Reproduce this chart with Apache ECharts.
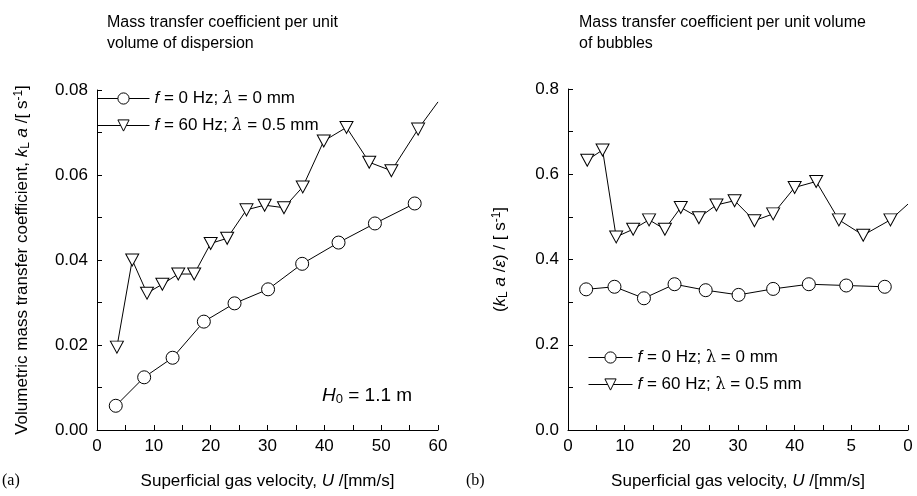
<!DOCTYPE html>
<html lang="en">
  <head>
    <meta charset="UTF-8" />
    <title>Mass transfer coefficient</title>
    <script src="https://cdn.jsdelivr.net/npm/echarts@6/dist/echarts.min.js"></script>
  </head>
  <body style="margin: 0; background: #fff">
    <div id="main" style="width: 917px; height: 496px"></div>
    <script type="text/javascript">
      // (a) per unit volume of dispersion
      const uA0 = [3.3, 8.3, 13.3, 18.8, 24.2, 30.1, 36.1, 42.5, 48.9, 55.9];
      const kA0 = [0.0057, 0.0124, 0.017, 0.0255, 0.0298, 0.0331, 0.0391, 0.0441, 0.0486, 0.0533];
      const uA60 = [3.5, 6.2, 8.8, 11.5, 14.3, 17.1, 20.0, 22.9, 26.3, 29.5, 32.9, 36.2, 39.9, 43.9, 47.9, 51.8, 56.5, 60];
      const kA60 = [0.0195, 0.04, 0.0322, 0.0343, 0.0367, 0.0367, 0.0439, 0.0451, 0.0518, 0.0529, 0.0523, 0.0572, 0.068, 0.0712, 0.063, 0.061, 0.0708, 0.0772];

      // (b) per unit volume of bubbles
      const uB0 = [3.2, 8.2, 13.4, 18.8, 24.3, 30.1, 36.2, 42.5, 49.1, 55.9];
      const kB0 = [0.33, 0.336, 0.309, 0.342, 0.328, 0.317, 0.331, 0.342, 0.339, 0.336];
      const uB60 = [3.4, 6.1, 8.5, 11.5, 14.3, 17.1, 19.9, 23.1, 26.2, 29.4, 32.9, 36.2, 40.0, 43.8, 47.8, 52.1, 56.9, 60];
      const kB60 = [0.633, 0.657, 0.453, 0.471, 0.493, 0.471, 0.522, 0.498, 0.528, 0.538, 0.491, 0.507, 0.569, 0.583, 0.493, 0.457, 0.493, 0.53];

      const xTickLabelsB = { 0: "0", 10: "10", 20: "20", 30: "30", 40: "40", 50: "5", 60: "0" };

      const name0 = "f0";
      const name60 = "f60";

      const font = "Liberation Sans";

      // last point of the 60 Hz series runs off the plot: draw line only
      function pts(xs, ys, tail) {
        return xs.map((x, i) => {
          if (tail && i === xs.length - 1) return { value: [x, ys[i]], symbol: "none" };
          return [x, ys[i]];
        });
      }

      const nameRich = {
        i: { fontStyle: "italic", fontFamily: font, fontSize: 17 },
        s: { fontFamily: font, fontSize: 12, verticalAlign: "bottom", padding: [7, 0, 0, 0] },
        p: { fontFamily: font, fontSize: 12, verticalAlign: "top", padding: [0, 0, 7, 0] },
      };

      function xAxis(gi, labels) {
        return {
          type: "value",
          gridIndex: gi,
          min: 0,
          max: 60,
          interval: 5,
          name: "Superficial gas velocity, {i|U} /[mm/s]",
          nameLocation: "middle",
          nameGap: 43,
          nameTextStyle: { fontFamily: font, fontSize: 17, color: "#000", rich: nameRich },
          axisLine: { lineStyle: { color: "#000", width: 1 } },
          axisTick: { inside: true, length: 5, lineStyle: { color: "#000" } },
          axisLabel: {
            fontFamily: font,
            fontSize: 17,
            color: "#000",
            margin: 8,
            formatter: (v) => (v % 10 === 0 ? (labels ? labels[v] : String(v)) : ""),
          },
          splitLine: { show: false },
        };
      }

      function yAxis(gi, max, step, digits, title, gap) {
        return {
          type: "value",
          gridIndex: gi,
          min: 0,
          max: max,
          interval: step,
          name: title,
          nameLocation: "middle",
          nameGap: gap,
          nameTextStyle: { fontFamily: font, fontSize: 17, color: "#000", rich: nameRich },
          axisLine: { show: true, lineStyle: { color: "#000", width: 1 } },
          axisTick: { show: true, inside: true, length: 5, lineStyle: { color: "#000" } },
          axisLabel: {
            fontFamily: font,
            fontSize: 17,
            color: "#000",
            margin: 9,
            formatter: (v) => (Math.round(v / step) % 2 === 0 ? v.toFixed(digits) : ""),
          },
          splitLine: { show: false },
        };
      }

      function lineSeries(name, gi, data, symbol) {
        return {
          name: name,
          type: "line",
          xAxisIndex: gi,
          yAxisIndex: gi,
          data: data,
          symbol: symbol,
          symbolSize: symbol === "circle" ? 13 : [13, 12],
          symbolRotate: symbol === "circle" ? 0 : 180,
          showAllSymbol: true,
          clip: true,
          lineStyle: { color: "#000", width: 1 },
          itemStyle: { color: "#fff", borderColor: "#000", borderWidth: 1 },
          emphasis: { disabled: true },
          z: 3,
        };
      }

      const legendRich = (lamItalic) => ({
        i: { fontStyle: "italic", fontFamily: font, fontSize: 17 },
        l: { fontStyle: lamItalic ? "italic" : "normal", fontFamily: "DejaVu Serif", fontSize: 16 },
      });
      const legendFmt = (n) =>
        n === name0 ? "{i|f} = 0 Hz; {l|λ} = 0 mm" : "{i|f} = 60 Hz; {l|λ} = 0.5 mm";

      function legend(left, top, w, lamItalic) {
        return {
          left: left,
          top: top,
          padding: 0,
          orient: "vertical",
          itemWidth: w,
          itemHeight: 14,
          itemGap: 10,
          data: [name0, name60],
          formatter: legendFmt,
          lineStyle: { width: 1, color: "#000" },
          itemStyle: { borderWidth: 1, borderColor: "#000", color: "#fff" },
          textStyle: { fontFamily: font, fontSize: 17, color: "#000", rich: legendRich(lamItalic) },
          selectedMode: false,
        };
      }

      let options = {
        animation: false,
        backgroundColor: "#fff",
        grid: [
          { left: 97, right: 479, top: 90, bottom: 66 },
          { left: 568, right: 9, top: 89, bottom: 66 },
        ],
        xAxis: [xAxis(0), xAxis(1, xTickLabelsB)],
        yAxis: [
          yAxis(0, 0.08, 0.01, 2, "Volumetric mass transfer coefficient, {i|k}{s|L}{i| a} /[ s{p|-1}]", 65),
          yAxis(1, 0.8, 0.1, 1, "({i|k}{s|L}{i| a} /{i|ε}) / [ s{p|-1}]", 58),
        ],
        legend: [legend(97, 90, 52, true), legend(588, 349, 44, false)],
        graphic: [
          {
            type: "text",
            left: 107,
            top: 12,
            style: {
              text: "Mass transfer coefficient per unit\nvolume of dispersion",
              font: "16px " + font,
              fill: "#000",
              lineHeight: 21,
            },
          },
          {
            type: "text",
            left: 579,
            top: 12,
            style: {
              text: "Mass transfer coefficient per unit volume\nof bubbles",
              font: "16px " + font,
              fill: "#000",
              lineHeight: 21,
            },
          },
          {
            type: "text",
            left: 322,
            top: 386,
            style: {
              text: "{i|H}{s|0} = 1.1 m",
              font: "19px " + font,
              fill: "#000",
              rich: {
                i: { fontStyle: "italic", fontFamily: font, fontSize: 19 },
                s: { fontFamily: font, fontSize: 13, verticalAlign: "bottom", padding: [8, 0, 0, 0] },
              },
            },
          },
          {
            type: "text",
            left: 2,
            top: 473,
            style: { text: "(a)", font: "16px Liberation Serif", fill: "#000" },
          },
          {
            type: "text",
            left: 466,
            top: 473,
            style: { text: "(b)", font: "16px Liberation Serif", fill: "#000" },
          },
        ],
        series: [
          lineSeries(name0, 0, pts(uA0, kA0, false), "circle"),
          lineSeries(name60, 0, pts(uA60, kA60, true), "triangle"),
          lineSeries(name0, 1, pts(uB0, kB0, false), "circle"),
          lineSeries(name60, 1, pts(uB60, kB60, true), "triangle"),
        ],
      };

      let myChart = echarts.init(document.getElementById("main"));
      myChart.setOption(options);
    </script>
  </body>
</html>
